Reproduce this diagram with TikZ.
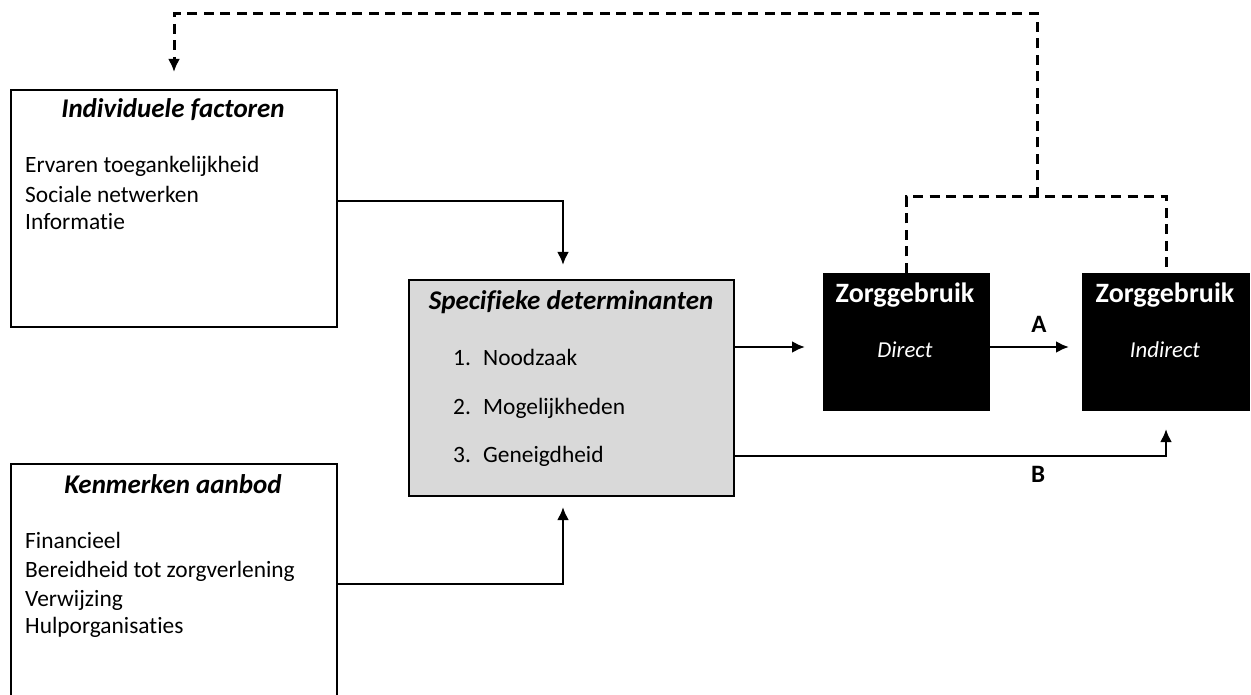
\documentclass[tikz,border=0pt]{standalone}
\usepackage{fontspec}
\setmainfont[Ligatures=NoCommon]{Carlito}
\usepackage{xcolor}
\usetikzlibrary{arrows.meta,calc}
\definecolor{boxgray}{HTML}{D9D9D9}

\begin{document}
\begin{tikzpicture}[x=1pt,y=-1pt,
    box/.style={draw, line width=2pt, rectangle, inner sep=0pt, anchor=north west},
    usebox/.style={box, fill=black},
    txt/.style={inner sep=0pt, anchor=base west, font=\fontsize{23.4}{28}\selectfont},
    head/.style={inner sep=0pt, anchor=base, font=\fontsize{27}{32}\selectfont\bfseries\itshape},
    usehead/.style={inner sep=0pt, anchor=base, text=white, font=\fontsize{28}{33}\selectfont\bfseries},
    usesub/.style={inner sep=0pt, anchor=base, text=white, font=\fontsize{22.8}{27}\selectfont\itshape},
    lab/.style={inner sep=0pt, anchor=base, font=\fontsize{25}{30}\selectfont\bfseries},
    link/.style={line width=2.6pt, >={Latex[length=13pt,width=12pt]}},
    back/.style={link, line width=3pt, dash pattern=on 10pt off 6.5pt}]
\useasboundingbox (0,0) rectangle (1251,695);
\clip (0,0) rectangle (1251,695);

\node [box, minimum width=326pt, minimum height=237pt] (ind) at (10,89) {};
\node [head] (indhead) at (173,118) {Individuele factoren};
\node [txt] (ind1) at (25,173) {Ervaren toegankelijkheid};
\node [txt] (ind2) at (25,203) {Sociale netwerken};
\node [txt] (ind3) at (25,230) {Informatie};

\node [box, minimum width=326pt, minimum height=238pt] (aanbod) at (10,463) {};
\node [head] (aanbodhead) at (173,493) {Kenmerken aanbod};
\node [txt] (aanbod1) at (25,548) {Financieel};
\node [txt] (aanbod2) at (25,577) {Bereidheid tot zorgverlening};
\node [txt] (aanbod3) at (25,606) {Verwijzing};
\node [txt] (aanbod4) at (25,633) {Hulporganisaties};

\node [box, fill=boxgray, minimum width=325pt, minimum height=216pt] (spec) at (408,279) {};
\node [head] (spechead) at (571,309) {Specifieke determinanten};
\node [txt] (spec1n) at (453,365) {1.};
\node [txt] (spec1) at (483,365) {Noodzaak};
\node [txt] (spec2n) at (453,414) {2.};
\node [txt] (spec2) at (483,414) {Mogelijkheden};
\node [txt] (spec3n) at (453,462) {3.};
\node [txt] (spec3) at (483,462) {Geneigdheid};

\node [usebox, minimum width=165pt, minimum height=136pt] (direct) at (823,273) {};
\node [usehead] (directhead) at (905,302) {Zorggebruik};
\node [usesub] (directsub) at (905,357) {Direct};

\node [usebox, minimum width=166pt, minimum height=136pt] (indirect) at (1082,273) {};
\node [usehead] (indirecthead) at (1165,302) {Zorggebruik};
\node [usesub] (indirectsub) at (1165,357) {Indirect};

\node [lab] (labA) at (1039,332) {A};
\node [lab] (labB) at (1038,482) {B};

\coordinate (fork) at (1037,197);
\coordinate (peak) at (1037,14);

\draw [link, ->, shorten >=14pt] ([yshift=7.5pt]ind.east) -| ([xshift=-8.5pt]spec.north);
\draw [link, ->, shorten >=10pt] ([yshift=-1pt]aanbod.east) -| ([xshift=-8.5pt]spec.south);
\draw [link, ->, shorten >=18pt] ([yshift=41pt]spec.east) -- ([yshift=-5pt]direct.west);
\draw [link, ->, shorten >=13pt] ([yshift=-5pt]direct.east) -- ([yshift=-5pt]indirect.west);
\draw [link, ->, shorten >=18pt] ([yshift=-68pt]spec.east) -| (indirect.south);

\draw [back] (direct.north) |- (fork) -| (indirect.north);
\draw [back, ->, shorten >=17pt] (fork) -- (peak) -| (ind.north);

\end{tikzpicture}
\end{document}
